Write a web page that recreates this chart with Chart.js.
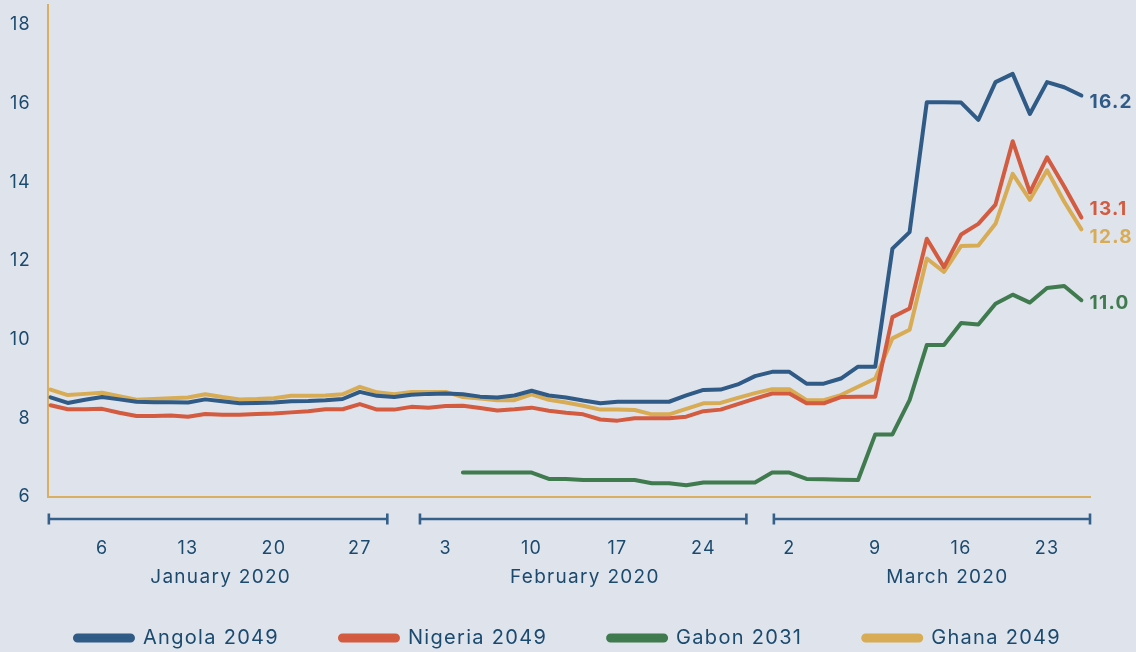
<!DOCTYPE html>
<html>
<head>
<meta charset="utf-8">
<script src="https://cdn.jsdelivr.net/npm/chart.js@4.4.1/dist/chart.umd.min.js"></script>
<style>
  html, body { margin: 0; padding: 0; background: #dfe3eb; overflow: hidden; }
  #wrap { width: 1136px; height: 652px; }
</style>
</head>
<body>
<div id="wrap"><canvas id="id-bond-chart" width="1136" height="652"></canvas></div>
<script>
//#region [Data]
const dates = [
  '2020-01-01','2020-01-02','2020-01-03','2020-01-06','2020-01-07','2020-01-08','2020-01-09','2020-01-10',
  '2020-01-13','2020-01-14','2020-01-15','2020-01-16','2020-01-17','2020-01-20','2020-01-21','2020-01-22',
  '2020-01-23','2020-01-24','2020-01-27','2020-01-28','2020-01-29','2020-01-30','2020-01-31',
  '2020-02-03','2020-02-04','2020-02-05','2020-02-06','2020-02-07','2020-02-10','2020-02-11','2020-02-12',
  '2020-02-13','2020-02-14','2020-02-17','2020-02-18','2020-02-19','2020-02-20','2020-02-21','2020-02-24',
  '2020-02-25','2020-02-26','2020-02-27','2020-02-28',
  '2020-03-02','2020-03-03','2020-03-04','2020-03-05','2020-03-06','2020-03-09','2020-03-10','2020-03-11',
  '2020-03-12','2020-03-13','2020-03-16','2020-03-17','2020-03-18','2020-03-19','2020-03-20','2020-03-23',
  '2020-03-24','2020-03-25'
];

const months = ['January 2020', 'February 2020', 'March 2020'];

const angola_2049 = [
  8.53, 8.39, 8.47, 8.54, 8.48, 8.42, 8.41, 8.41, 8.40, 8.48, 8.43, 8.38, 8.39, 8.40, 8.43, 8.44,
  8.46, 8.49, 8.67, 8.57, 8.54, 8.60, 8.62,
  8.63, 8.61, 8.55, 8.53, 8.58, 8.70, 8.58, 8.53, 8.45, 8.38, 8.42, 8.42, 8.42, 8.42, 8.58, 8.72,
  8.73, 8.86, 9.07, 9.18,
  9.18, 8.88, 8.88, 9.01, 9.31, 9.31, 12.31, 12.73, 16.03, 16.03, 16.02, 15.58, 16.54, 16.75, 15.73, 16.54,
  16.41, 16.2
];

const nigeria_2049 = [
  8.33, 8.23, 8.23, 8.24, 8.14, 8.06, 8.06, 8.07, 8.04, 8.11, 8.09, 8.09, 8.11, 8.12, 8.15, 8.18,
  8.23, 8.23, 8.36, 8.22, 8.22, 8.29, 8.27,
  8.31, 8.32, 8.26, 8.20, 8.23, 8.27, 8.19, 8.14, 8.10, 7.97, 7.94, 8.00, 8.00, 8.00, 8.04, 8.18,
  8.22, 8.36, 8.50, 8.63,
  8.63, 8.38, 8.38, 8.54, 8.55, 8.55, 10.57, 10.79, 12.56, 11.84, 12.67, 12.94, 13.43, 15.04, 13.74, 14.63,
  13.89, 13.1
];

const gabon_2031 = [
  null, null, null, null, null, null, null, null, null, null, null, null, null, null, null, null,
  null, null, null, null, null, null, null,
  null, 6.62, 6.62, 6.62, 6.62, 6.62, 6.46, 6.46, 6.43, 6.43, 6.43, 6.43, 6.35, 6.35, 6.30, 6.37,
  6.37, 6.37, 6.37, 6.62,
  6.62, 6.46, 6.45, 6.44, 6.43, 7.59, 7.59, 8.46, 9.86, 9.86, 10.42, 10.38, 10.91, 11.14, 10.94, 11.31,
  11.36, 11.0
];

const ghana_2049 = [
  8.73, 8.59, 8.62, 8.65, 8.56, 8.47, 8.49, 8.51, 8.53, 8.61, 8.54, 8.48, 8.49, 8.51, 8.57, 8.57,
  8.58, 8.61, 8.80, 8.66, 8.61, 8.67, 8.67,
  8.67, 8.54, 8.50, 8.46, 8.46, 8.61, 8.47, 8.40, 8.32, 8.22, 8.22, 8.21, 8.10, 8.10, 8.24, 8.38,
  8.39, 8.52, 8.64, 8.74,
  8.74, 8.46, 8.46, 8.59, 8.80, 9.01, 10.03, 10.25, 12.06, 11.72, 12.38, 12.39, 12.94, 14.21, 13.55, 14.30,
  13.5, 12.8
];

const y_ticks = [6, 8, 10, 12, 14, 16, 18];
//#endregion

const TEXT_COLOR = '#1b4a6f';
const AXIS_COLOR = '#d9b061';
const FONT = 'Inter, "Open Sans", sans-serif';
const LETTER_SPACING = '1.3px';

// Mondays get a day-number tick
const monday_idx = dates.map((d, i) => (new Date(d + 'T12:00:00Z').getUTCDay() === 1 ? i : -1)).filter(i => i >= 0);

// bracket spans and label centres under the axis, in index units
const month_marks =
[
  { label: months[0], from: -0.1, to: 19.6, centre: 9.9 },
  { label: months[1], from: 21.5, to: 40.5, centre: 31.1 },
  { label: months[2], from: 42.1, to: 60.5, centre: 52.2 }
];

function ToPoints(values) { return values.map((v, i) => ({ x: i, y: v })); }

function MakeSet(label, values, color, label_dy)
{
  return {
    label: label,
    data: ToPoints(values),
    borderColor: color,
    backgroundColor: color,
    borderWidth: 4,
    pointRadius: 0,
    tension: 0,
    spanGaps: false,
    borderCapStyle: 'round',
    borderJoinStyle: 'round',
    end_label_dy: label_dy
  };
}

// wider lettering, close to the geometric face of the original
const spacing_plugin =
{
  id: 'letterSpacing',
  beforeLayout(chart) { chart.ctx.letterSpacing = LETTER_SPACING; },
  beforeDraw(chart) { chart.ctx.letterSpacing = LETTER_SPACING; }
};

const month_plugin =
{
  id: 'monthBrackets',
  afterDraw(chart)
  {
    const ctx = chart.ctx;
    const x = chart.scales.x;
    const base = chart.chartArea.bottom;
    ctx.save();
    ctx.strokeStyle = '#34608a';
    ctx.lineWidth = 2.6;
    ctx.fillStyle = TEXT_COLOR;
    ctx.font = '19px ' + FONT;
    ctx.textAlign = 'center';
    ctx.textBaseline = 'middle';
    month_marks.forEach(m =>
    {
      const x0 = x.getPixelForValue(m.from);
      const x1 = x.getPixelForValue(m.to);
      const y = base + 22;
      ctx.beginPath();
      ctx.moveTo(x0, y); ctx.lineTo(x1, y);
      ctx.moveTo(x0, y - 5.5); ctx.lineTo(x0, y + 5.5);
      ctx.moveTo(x1, y - 5.5); ctx.lineTo(x1, y + 5.5);
      ctx.stroke();
      ctx.fillText(m.label, x.getPixelForValue(m.centre), base + 80);
    });
    ctx.restore();
  }
};

const end_label_plugin =
{
  id: 'endLabels',
  afterDatasetsDraw(chart)
  {
    const ctx = chart.ctx;
    ctx.save();
    ctx.font = 'bold 19px ' + FONT;
    ctx.textAlign = 'left';
    ctx.textBaseline = 'middle';
    chart.data.datasets.forEach((ds, i) =>
    {
      const meta = chart.getDatasetMeta(i);
      const last = meta.data[meta.data.length - 1];
      const value = ds.data[ds.data.length - 1].y;
      ctx.fillStyle = ds.borderColor;
      ctx.fillText(value.toFixed(1), last.x + 8, last.y + ds.end_label_dy);
    });
    ctx.restore();
  }
};

function DrawChart()
{
  const ctx = document.getElementById('id-bond-chart').getContext('2d');

  new Chart(ctx,
  {
    type: 'line',
    data:
    {
      datasets:
      [
        MakeSet('Angola 2049', angola_2049, '#2f5b86', 7),
        MakeSet('Nigeria 2049', nigeria_2049, '#d35b40', -8),
        MakeSet('Gabon 2031', gabon_2031, '#3f7b4f', 3),
        MakeSet('Ghana 2049', ghana_2049, '#d8ab55', 8)
      ]
    },
    options:
    {
      responsive: false,
      animation: false,
      layout: { padding: { top: 5, right: 0, left: 0, bottom: -6 } },
      scales:
      {
        x:
        {
          type: 'linear',
          min: -0.15,
          max: 60.5,
          grid: { display: false, drawTicks: false },
          border: { color: AXIS_COLOR, width: 2 },
          afterBuildTicks: scale => { scale.ticks = monday_idx.map(v => ({ value: v })); },
          afterFit: scale => { scale.height = 70; scale.paddingLeft = 0; scale.paddingRight = 0; },
          ticks:
          {
            autoSkip: false,
            maxRotation: 0,
            padding: 41,
            color: TEXT_COLOR,
            font: { family: FONT, size: 18 },
            callback: v => String(Number(dates[v].slice(8)))
          }
        },
        y:
        {
          min: 6,
          max: 18.5,
          grid: { display: false, drawTicks: false },
          border: { color: AXIS_COLOR, width: 2 },
          afterBuildTicks: scale => { scale.ticks = y_ticks.map(v => ({ value: v })); },
          afterFit: scale => { scale.width = 48; scale.paddingTop = 0; scale.paddingBottom = 0; },
          ticks:
          {
            padding: 17,
            color: TEXT_COLOR,
            font: { family: FONT, size: 18 }
          }
        },
        // empty strip on the right that keeps room for the end labels
        y_room:
        {
          position: 'right',
          grid: { display: false, drawTicks: false },
          border: { display: false },
          ticks: { display: false },
          afterFit: scale => { scale.width = 46; scale.paddingTop = 0; scale.paddingBottom = 0; }
        }
      },
      plugins:
      {
        legend:
        {
          position: 'bottom',
          labels:
          {
            boxWidth: 58,
            boxHeight: 5,
            useBorderRadius: true,
            borderRadius: 2.5,
            padding: 61,
            color: TEXT_COLOR,
            font: { family: FONT, size: 20 }
          }
        },
        tooltip: { enabled: false }
      }
    },
    plugins: [spacing_plugin, month_plugin, end_label_plugin]
  });
}

document.addEventListener('DOMContentLoaded', function() { DrawChart(); });
</script>
</body>
</html>
